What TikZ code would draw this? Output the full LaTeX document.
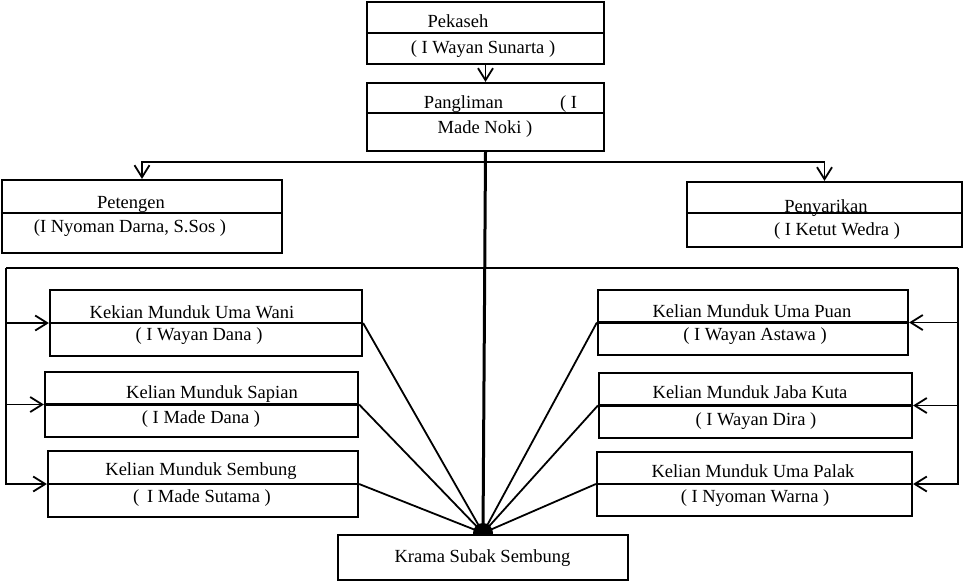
\documentclass[tikz,border=0pt]{standalone}
\usepackage{fontspec}
\setmainfont{Liberation Serif}
\usetikzlibrary{arrows.meta}
\begin{document}
\begin{tikzpicture}[x=1pt,y=-1pt,
  box/.style={draw, line width=2.2pt, fill=white, inner sep=0pt},
  divider/.style={line width=2.2pt},
  lbl/.style={anchor=base, inner sep=0pt, font=\fontsize{18.5}{20}\selectfont},
  conn/.style={line width=1.8pt},
  trunk/.style={line width=3pt},
  arr/.style={conn, -{Straight Barb[length=12pt,width=15pt,line width=1.8pt]}}]
\useasboundingbox (0,0) rectangle (964,582);

% boxes
\node[box, minimum width=237pt, minimum height=62pt] (pek) at (485.5,33) {};
\node[box, minimum width=237pt, minimum height=68pt] (pang) at (485.5,117) {};
\node[box, minimum width=280pt, minimum height=73pt] (pet) at (142,216.5) {};
\node[box, minimum width=275pt, minimum height=65pt] (pen) at (824.5,214.5) {};
\node[box, minimum width=312pt, minimum height=66pt] (wani) at (206,323) {};
\node[box, minimum width=313pt, minimum height=65pt] (sap) at (201.5,404.5) {};
\node[box, minimum width=310pt, minimum height=66pt] (semb) at (203,484) {};
\node[box, minimum width=310pt, minimum height=65pt] (puan) at (753,322.5) {};
\node[box, minimum width=313pt, minimum height=65pt] (jaba) at (755.5,405.5) {};
\node[box, minimum width=315pt, minimum height=64pt] (palak) at (754.5,484) {};

% dividers
\draw[divider] (pek.west) -- (pek.east);
\draw[divider] ([yshift=4pt]pang.west) -- ([yshift=4pt]pang.east);
\draw[divider] ([yshift=3.5pt]pet.west) -- ([yshift=3.5pt]pet.east);
\draw[divider] ([yshift=1.5pt]pen.west) -- ([yshift=1.5pt]pen.east);
\foreach \b in {wani,sap,semb,puan,jaba,palak}
  \draw[divider] (\b.west) -- (\b.east);

% connector coordinates
\coordinate (bus) at (484,162);
\coordinate (bl) at (6,268);
\coordinate (br) at (958,268);

% dot
\node[circle, fill=black, inner sep=0pt, minimum size=20pt] (dot) at (483,533) {};

% connectors
\draw[arr] (pek.south) -- (pang.north);
\draw[arr] (bus) -| (pet.north);
\draw[arr] (bus) -| (pen.north);
\draw[trunk] (pang.south) -- (dot.center);
\draw[conn] (bl) -- (br);
\draw[arr] (bl) |- (wani.west);
\draw[arr] (bl) |- (sap.west);
\draw[arr] (bl) |- (semb.west);
\draw[arr] (br) |- (puan.east);
\draw[arr] (br) |- (jaba.east);
\draw[arr] (br) |- (palak.east);
\foreach \b in {wani,sap,semb}
  \draw[conn] (\b.east) -- (dot.center);
\foreach \b in {puan,jaba,palak}
  \draw[conn] (\b.west) -- (dot.center);

\node[box, minimum width=290pt, minimum height=45pt] (krama) at (483,557.5) {};

% texts
\node[lbl] (t1) at (458,27) {Pekaseh};
\node[lbl] (t2) at (483,53) {( I Wayan Sunarta )};
\node[lbl] (t3) at (500.5,108) {Pangliman\hspace{57pt}( I};
\node[lbl] (t4) at (485,133) {Made Noki )};
\node[lbl] (t5) at (131,208) {Petengen};
\node[lbl] (t6) at (130,232) {(I Nyoman Darna, S.Sos )};
\node[lbl] (t7) at (826,212) {Penyarikan};
\node[lbl] (t8) at (837,235) {( I Ketut Wedra )};
\node[lbl] (t9) at (192,318) {Kekian Munduk Uma Wani};
\node[lbl] (t10) at (199,340) {( I Wayan Dana )};
\node[lbl] (t11) at (752,317) {Kelian Munduk Uma Puan};
\node[lbl] (t12) at (755,340) {( I Wayan Astawa )};
\node[lbl] (t13) at (212,398) {Kelian Munduk Sapian};
\node[lbl] (t14) at (201,423) {( I Made Dana )};
\node[lbl] (t15) at (201,475) {Kelian Munduk Sembung};
\node[lbl] (t16) at (202,502) {(\, I Made Sutama )};
\node[lbl] (t17) at (750,398) {Kelian Munduk Jaba Kuta};
\node[lbl] (t18) at (756,425) {( I Wayan Dira )};
\node[lbl] (t19) at (753,477) {Kelian Munduk Uma Palak};
\node[lbl] (t20) at (755,502) {( I Nyoman Warna )};
\node[lbl] (t21) at (482.5,562) {Krama Subak Sembung};
\end{tikzpicture}
\end{document}
